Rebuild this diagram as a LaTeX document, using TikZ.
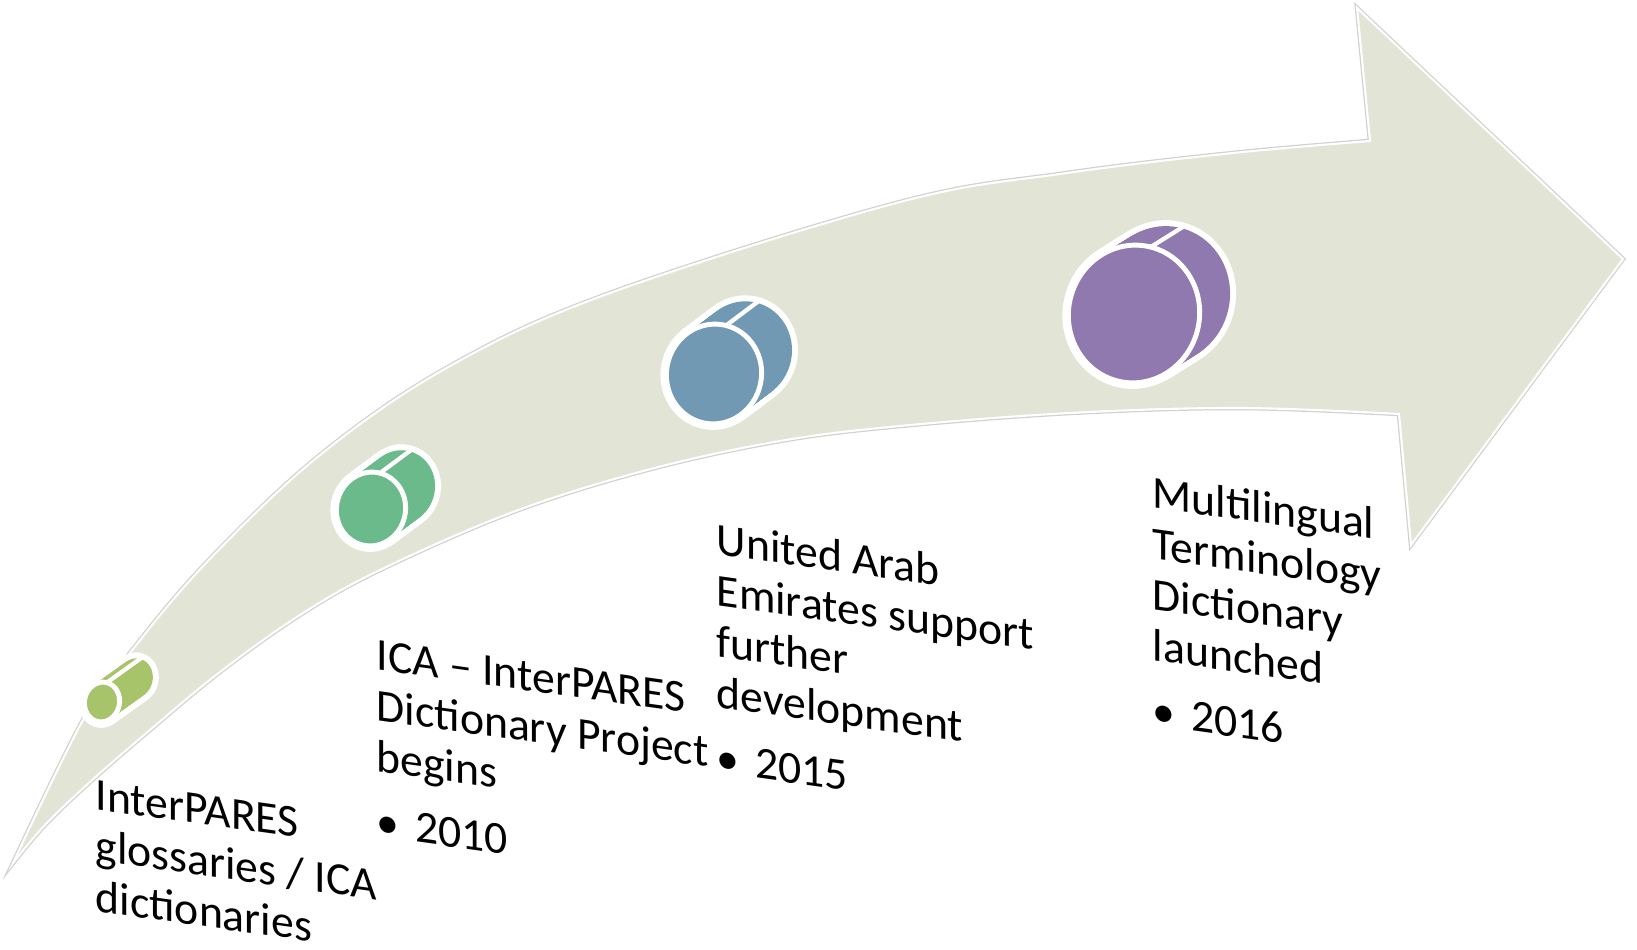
\documentclass[tikz,border=0pt]{standalone}
\usepackage{fontspec}
\setmainfont{Carlito}
\usepackage{tikz}
\usepackage{xcolor}
\usetikzlibrary{calc}

\definecolor{bandgrey}{HTML}{E2E4D6}
\definecolor{leafgreen}{HTML}{A7C46A}
\definecolor{mintgreen}{HTML}{6BBA8B}
\definecolor{steelblue}{HTML}{7199B4}
\definecolor{lavender}{HTML}{9079AE}

\tikzset{
  milestone/.style={anchor=north west, inner sep=0pt, align=left, yslant=-0.14,
    font=\fontsize{13pt}{14.5pt}\selectfont},
}

% drum: centre x, centre y, x radius, y radius, depth x, depth y, colour
\newcommand{\drum}[7]{%
  \foreach \t in {0,0.05,...,1}
    \fill[white] ({#1+\t*#5},{#2+\t*#6}) ellipse [x radius={#3+0.06}, y radius={#4+0.06}, rotate=-12];
  \foreach \t in {0,0.05,...,1}
    \fill[#7] ({#1+\t*#5},{#2+\t*#6}) ellipse [x radius=#3, y radius=#4, rotate=-12];
  \draw[white, line width=1.4pt, fill=#7] (#1,#2) ellipse [x radius=#3, y radius=#4, rotate=-12];
  \draw[white, line width=1.2pt] ($(#1,#2)+(76:#4)$) -- ++(#5,#6);
}

\begin{document}
\begin{tikzpicture}
\useasboundingbox (0,0) rectangle (16.37,9.49);

% the curved arrow
\fill[bandgrey, draw=white, line width=0.6pt, preaction={draw=black!18, line width=1.3pt}]
  plot[smooth, tension=0.6] coordinates {(0.13,0.86) (0.83,2.29) (1.30,2.96) (2.07,3.87) (3.20,4.94) (4.50,5.83) (6.10,6.56) (9.00,7.47) (10.67,7.76) (12.33,7.96) (13.70,8.08)}
  -- (13.57,9.41) -- (16.23,6.90) -- (14.11,4.04)
  -- plot[smooth, tension=0.6] coordinates {(13.99,5.35) (12.40,5.41) (10.70,5.36) (9.00,5.23) (7.80,5.08) (6.47,4.79) (5.13,4.37) (3.80,3.79) (3.00,3.34) (2.20,2.77) (1.50,2.19) (0.90,1.67) (0.45,1.24) (0.13,0.86)}
  -- cycle;

% drums along the arrow
\drum{1.02}{2.47}{0.175}{0.20}{0.35}{0.25}{leafgreen}
\drum{3.71}{4.40}{0.345}{0.37}{0.31}{0.23}{mintgreen}
\drum{7.14}{5.75}{0.475}{0.50}{0.32}{0.24}{steelblue}
\drum{11.34}{6.35}{0.655}{0.69}{0.32}{0.20}{lavender}

% labels
\node (early) at (0.95,1.70) [milestone] {InterPARES\\glossaries / ICA\\dictionaries};
\node (start) at (3.76,3.10) [milestone] {ICA -- InterPARES\\Dictionary Project\\begins\\[4pt]\textbullet\hspace{0.35em}2010};
\node (uae) at (7.16,4.27) [milestone] {United Arab\\Emirates support\\further\\development\\[4pt]\textbullet\hspace{0.35em}2015};
\node (launch) at (11.52,4.74) [milestone] {Multilingual\\Terminology\\Dictionary\\launched\\[4pt]\textbullet\hspace{0.35em}2016};

\end{tikzpicture}
\end{document}
